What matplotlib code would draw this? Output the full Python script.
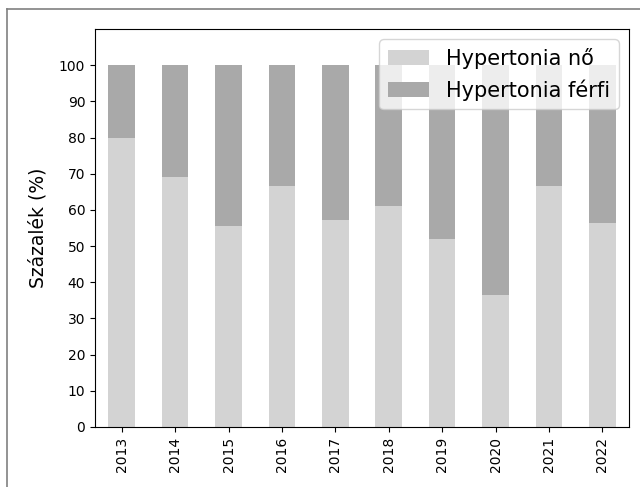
import matplotlib
matplotlib.use("Agg")
import matplotlib.pyplot as plt
from matplotlib.lines import Line2D
import numpy as np

# Adatok
evek = ["2013", "2014", "2015", "2016", "2017", "2018", "2019", "2020", "2021", "2022"]
no = [80.0, 69.2, 55.6, 66.7, 57.1, 61.1, 52.0, 36.4, 66.7, 56.3]
ferfi = [20.0, 30.8, 44.4, 33.3, 42.9, 38.9, 48.0, 63.6, 33.3, 43.7]

fig = plt.figure(figsize=(6.4, 4.87), dpi=100)
ax = fig.add_axes([95 / 640, 60 / 487, 534 / 640, 398 / 487])

x = np.arange(len(evek))
ax.bar(x, no, width=0.5, color="lightgray", label="Hypertonia nő")
ax.bar(x, ferfi, width=0.5, bottom=no, color="darkgray", label="Hypertonia férfi")

ax.set_xticks(x)
ax.set_xticklabels(evek, rotation=90)
ax.set_xlim(-0.5, len(evek) - 0.5)
ax.set_ylim(0, 110)
ax.set_yticks(range(0, 101, 10))
ax.set_ylabel("Százalék (%)", fontsize=13.5, labelpad=8)
ax.legend(loc="upper right", fontsize=15)

# keret a kép szélén
fig.add_artist(Line2D([7 / 640, 7 / 640], [0, 1 - 9 / 487], color="gray", lw=1.2))
fig.add_artist(Line2D([7 / 640, 1], [1 - 9 / 487, 1 - 9 / 487], color="gray", lw=1.2))

fig.savefig("out.png", dpi=100)
